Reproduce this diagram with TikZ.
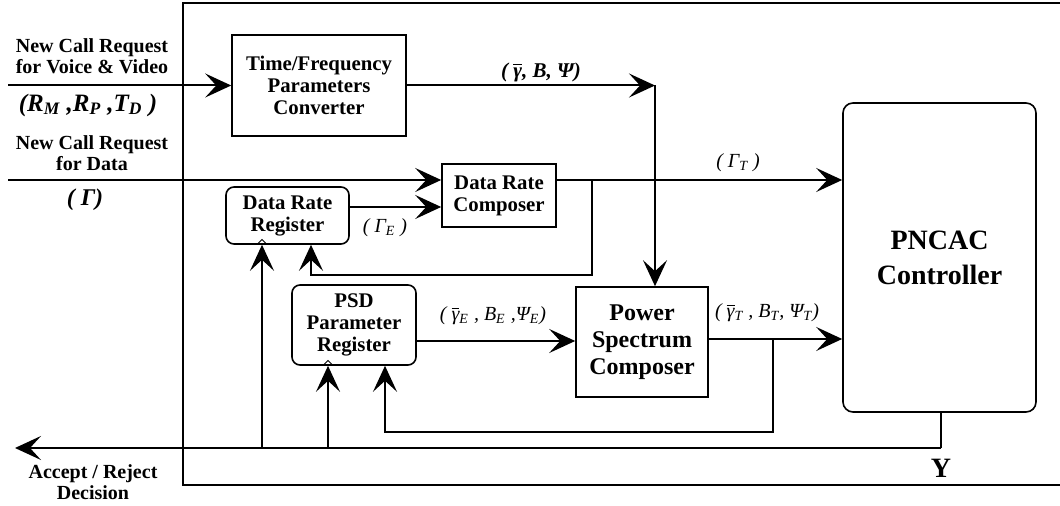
\documentclass[tikz,border=0pt]{standalone}
\usepackage{fontspec}
\setmainfont{Liberation Serif}
\usetikzlibrary{arrows.meta}
\newcommand\gbar[1]{$\overline{\mbox{#1}}$}
\tikzset{
  arr/.style={line width=1pt, -{Stealth[length=13pt,width=12pt,inset=5.5pt]}},
  wire/.style={line width=1pt},
  blk/.style={draw, line width=0.8pt, inner sep=0pt, align=center,
    font=\fontsize{10.4}{11}\selectfont\bfseries},
  reg/.style={blk, rounded corners=4pt},
  lbl/.style={inner sep=0pt, align=center, font=\fontsize{10}{10.5}\selectfont\bfseries},
  var/.style={inner sep=0pt, font=\fontsize{10}{11}\selectfont\itshape},
  clk/.style={line width=0.5pt},
}
\begin{document}
\begin{tikzpicture}[x=0.5pt, y=-0.5pt]
\clip (0,0) rectangle (1060,506);
\fill[white] (0,0) rectangle (1060,506);

% outer frame
\draw[line width=1.4pt] (1070,3) -- (183,3) -- (183,485) -- (1070,485);

% blocks
\node[blk, minimum width=87pt, minimum height=50.5pt] (conv) at (319,85.5)
  {Time/Frequency\\Parameters\\Converter};
\node[blk, minimum width=57pt, minimum height=31.5pt] (drc) at (499,195.5)
  {Data Rate\\Composer};
\node[reg, minimum width=61.5pt, minimum height=28.5pt] (drr) at (287.5,215.5)
  {Data Rate\\Register};
\node[reg, minimum width=62pt, minimum height=40pt] (psd) at (354,325)
  {PSD\\Parameter\\Register};
\node[blk, minimum width=66pt, minimum height=55pt,
  font=\fontsize{12}{13.5}\selectfont\bfseries] (psc) at (642,342)
  {Power\\Spectrum\\Composer};
\node[blk, rounded corners=5pt, minimum width=96.5pt, minimum height=154.5pt,
  font=\fontsize{14}{17.5}\selectfont\bfseries] (ctrl) at (939.5,257.5)
  {PNCAC\\Controller};

% clock marks on the registers
\draw[clk] (257.5,244) -- (262,239.5) -- (266.5,244);
\draw[clk] (323.5,365) -- (328,360.5) -- (332.5,365);

% junction points
\coordinate (vin)  at (8,85.5);
\coordinate (din)  at (8,180);
\coordinate (tf)   at (655,85.5);
\coordinate (dtap) at (592,180);
\coordinate (dret) at (592,275);
\coordinate (ptap) at (773,339);
\coordinate (pret) at (773,432);
\coordinate (ydn)  at (941,448);
\coordinate (yout) at (15,448);
\coordinate (ya)   at (262,448);
\coordinate (yb)   at (328,448);

% call requests
\draw[arr] (vin) -- (vin -| conv.west);
\draw[arr] (din) -- (din -| drc.west);

% time/frequency path
\draw[arr] (conv.east |- tf) -- (tf);
\draw[arr] (tf) -- (tf |- psc.north);

% data rate path
\draw[arr] (drr.east |- 0,207) -- (drc.west |- 0,207);
\draw[arr] (drc.east |- din) -- (ctrl.west |- din);
\draw[arr] (dtap) -- (dret) -- (dret -| 311,0) -- (drr.south -| 311,0);

% power spectrum path
\draw[arr] (psd.east |- 0,341) -- (psc.west |- 0,341);
\draw[arr] (psc.east |- ptap) -- (ctrl.west |- ptap);
\draw[arr] (ptap) -- (pret) -- (pret -| 385,0) -- (psd.south -| 385,0);

% decision output
\draw[wire] (ctrl.south -| ydn) -- (ydn);
\draw[arr] (ydn) -- (yout);
\draw[arr] (ya) -- (drr.south -| ya);
\draw[arr] (yb) -- (psd.south -| yb);

% texts
\node[lbl] (t1) at (92,56) {New Call Request\\for Voice \& Video};
\node[lbl, font=\fontsize{12.5}{13}\selectfont\bfseries\itshape] (t2) at (88,105)
  {(R\textsubscript{M} ,R\textsubscript{P} ,T\textsubscript{D} )};
\node[lbl] (t3) at (92,153) {New Call Request\\for Data};
\node[lbl, font=\fontsize{12}{13}\selectfont\bfseries\itshape] (t4) at (85,200) {( Γ)};
\node[var, font=\fontsize{10.5}{11}\selectfont\bfseries\itshape] (t5) at (541,72)
  {( \gbar{\bfseries\itshape γ}, B, Ψ)};
\node[var] (t6) at (385,228) {( Γ\textsubscript{E} )};
\node[var] (t7) at (738,163) {( Γ\textsubscript{T} )};
\node[var] (t8) at (493,316)
  {( \gbar{\itshape γ}\textsubscript{E} , B\textsubscript{E} ,Ψ\textsubscript{E})};
\node[var] (t9) at (767,313)
  {( \gbar{\itshape γ}\textsubscript{T} , B\textsubscript{T}, Ψ\textsubscript{T})};
\node[lbl, font=\fontsize{14}{15}\selectfont\bfseries] (ty) at (941,468) {Y};
\node[lbl] (t10) at (93,482) {Accept / Reject\\Decision};
\end{tikzpicture}
\end{document}
